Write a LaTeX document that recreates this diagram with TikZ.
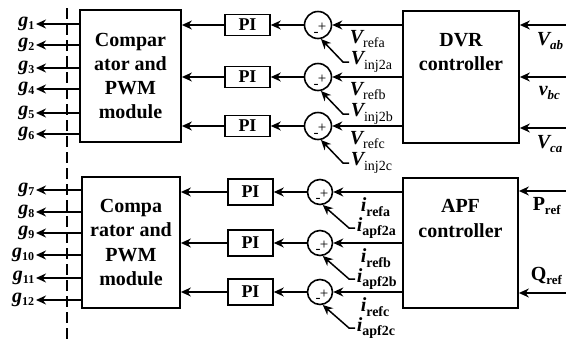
\documentclass[tikz,border=0pt]{standalone}
\usepackage{fontspec}
\setmainfont{Liberation Serif}
\usetikzlibrary{arrows.meta}

% subscripts set lower and smaller than the main letter
\newcommand\lowsub[2][14]{\raisebox{-4.5pt}{\fontsize{#1}{#1}\selectfont #2}}
\newcommand\gsig[1]{{\bfseries\itshape g}\raisebox{-3pt}{\fontsize{12}{12}\selectfont\bfseries #1}}
\newcommand\vsig[1]{{\bfseries\itshape V}\lowsub{#1}}
\newcommand\isig[1]{{\bfseries\itshape i}\lowsub{\bfseries #1}}

\begin{document}
\begin{tikzpicture}[x=1pt,y=-1pt,
  line width=1.5pt,
  box/.style={draw, line width=1.8pt, inner sep=0pt},
  boxtext/.style={align=center, inner sep=0pt,
    font=\fontsize{20}{24.3}\selectfont\bfseries},
  pibox/.style={draw, line width=1.6pt, minimum width=45pt, inner sep=0pt,
    font=\fontsize{18}{18}\selectfont\bfseries},
  sumc/.style={draw, circle, line width=1.6pt, inner sep=0pt},
  sgn/.style={inner sep=0pt, font=\fontsize{15}{15}\selectfont},
  arr/.style={-{Stealth[length=10pt,width=9pt]}, line width=1.5pt},
  sig/.style={inner sep=1pt, font=\fontsize{20}{20}\selectfont},
  gl/.style={sig, anchor=east},
]
\useasboundingbox (0,0) rectangle (566,341);
\clip (0,0) rectangle (566,341);

% ---------- dashed separation line ----------
\coordinate (dtop) at (67,8);
\coordinate (dbot) at (67,341);
\draw[line width=1.5pt, dash pattern=on 11pt off 5pt] (dtop) -- (dbot);

% ================= DVR part =================
\node[box, minimum width=101pt, minimum height=132pt] (cmp1) at (130.5,76) {};
\node[boxtext] at (cmp1.center) {Compar\\ator and\\PWM\\module};

\node[box, minimum width=116pt, minimum height=132pt] (dvr) at (461,77) {};
\node[boxtext] at (461,52) {DVR\\controller};

% gate signals g1..g6
\foreach \n/\y in {1/24,2/45,3/68,4/89,5/113,6/134}{
  \node[gl] (g\n) at (36,\y) {\gsig{\n}};
  \draw[arr] (cmp1.west |- g\n) -- (g\n.east);
}

% three voltage error channels
\foreach \k/\y/\ph in {1/25/a,2/77/b,3/126/c}{
  \node[pibox, minimum height=21pt] (pv\k) at (247.5,\y) {PI};
  \node[sumc, minimum size=27pt] (sv\k) at (318,\y) {};
  \node[sgn] at ([shift={(4,2)}]sv\k.center) {+};
  \node[sgn] at ([shift={(-2,9)}]sv\k.center) {-};
  \node[sig, anchor=west] (vref\k) at (348,\y+14) {\vsig{ref\ph}};
  \node[sig, anchor=west] (vinj\k) at (349,\y+37) {\vsig{inj2\ph}};
  \draw[arr] (dvr.west |- sv\k) -- (sv\k.east);
  \draw[arr] (sv\k.west) -- (pv\k.east);
  \draw[arr] (pv\k.west) -- (cmp1.east |- pv\k);
  \draw[arr] (vinj\k.west) -- ++(-6,0) -- (sv\k.282);
}

% line voltages into the DVR controller
\coordinate (vin1) at (566,25);
\coordinate (vin2) at (566,77);
\coordinate (vin3) at (566,128);
\foreach \k in {1,2,3}{
  \draw[arr] (vin\k) -- (dvr.east |- vin\k);
}
\node[sig, anchor=west] at (535,41) {{\bfseries\itshape V}\lowsub[13]{\bfseries\itshape ab}};
\node[sig, anchor=west] at (537,93) {{\bfseries\itshape v}\lowsub[13]{\bfseries\itshape bc}};
\node[sig, anchor=west] at (535,144) {{\bfseries\itshape V}\lowsub[13]{\bfseries\itshape ca}};

% ================= APF part =================
\node[box, minimum width=98pt, minimum height=131pt] (cmp2) at (131,242.5) {};
\node[boxtext] at (cmp2.center) {Compa\\rator and\\PWM\\module};

\node[box, minimum width=115pt, minimum height=130pt] (apf) at (460.5,243) {};
\node[boxtext] at (460.5,218.5) {APF\\controller};

% gate signals g7..g12
\foreach \n/\y in {7/190,8/212,9/233,10/255,11/278,12/300}{
  \node[gl] (g\n) at (36,\y) {\gsig{\n}};
  \draw[arr] (cmp2.west |- g\n) -- (g\n.east);
}

% three current error channels
\foreach \k/\y/\ph in {1/192/a,2/243/b,3/292/c}{
  \node[pibox, minimum height=26pt] (pi\k) at (250.5,\y) {PI};
  \node[sumc, minimum size=25pt] (si\k) at (320,\y) {};
  \node[sgn] at ([shift={(4,2)}]si\k.center) {+};
  \node[sgn] at ([shift={(-2,8.5)}]si\k.center) {-};
  \node[sig, anchor=west] (iref\k) at (359,\y+15) {\isig{ref\ph}};
  \node[sig, anchor=west] (iapf\k) at (355,\y+36) {\isig{apf2\ph}};
  \draw[arr] (apf.west |- si\k) -- (si\k.east);
  \draw[arr] (si\k.west) -- (pi\k.east);
  \draw[arr] (pi\k.west) -- (cmp2.east |- pi\k);
  \draw[arr] (iapf\k.west) -- ++(-6,0) -- (si\k.282);
}

% power references into the APF controller
\coordinate (pin) at (566,191);
\coordinate (qin) at (566,293);
\draw[arr] (pin) -- (apf.east |- pin);
\draw[arr] (qin) -- (apf.east |- qin);
\node[sig, anchor=west] at (531,206) {{\bfseries P}\lowsub[13]{\bfseries ref}};
\node[sig, anchor=west] at (529,276) {{\bfseries Q}\lowsub[13]{\bfseries ref}};
\end{tikzpicture}
\end{document}
